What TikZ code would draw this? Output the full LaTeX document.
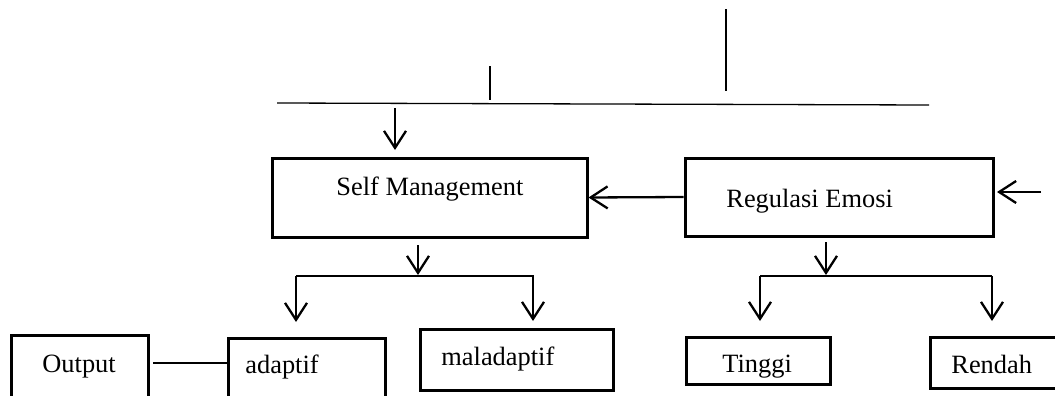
\documentclass[tikz,border=0pt]{standalone}
\usepackage{fontspec}
\setmainfont{Liberation Serif}
\usetikzlibrary{arrows.meta}
\begin{document}
\begin{tikzpicture}[x=0.5pt,y=-0.5pt,
  box/.style={draw, line width=1.5pt, rectangle, inner sep=0pt},
  lbl/.style={inner sep=0pt, anchor=base west, font=\fontsize{13.2}{15}\selectfont},
  thin/.style={line width=0.65pt},
  arr/.style={line width=1.15pt, -{Straight Barb[length=8.5pt,width=11pt,line width=1.15pt]}},
  plain/.style={line width=1.1pt}]
\useasboundingbox (0,0) rectangle (1055,396);
\clip (0,0) rectangle (1055,396);
% boxes
\node[box, minimum width=157.5pt, minimum height=39.5pt] (sm) at (429.5,197.5) {};
\node[box, minimum width=154pt, minimum height=39pt] (re) at (839,197) {};
\node[box, minimum width=68.5pt, minimum height=47.5pt] (out) at (79.5,382.5) {};
\node[box, minimum width=78.5pt, minimum height=46pt] (ad) at (306.5,384) {};
\node[box, minimum width=96.5pt, minimum height=30.5pt] (mal) at (516.5,359.5) {};
\node[box, minimum width=72pt, minimum height=23.5pt] (ti) at (758,360.5) {};
\node[box, minimum width=75pt, minimum height=25.5pt] (rd) at (1005,362.5) {};
% labels
\node[lbl] (tsm) at (336,195) {Self Management};
\node[lbl] (tre) at (726,207) {Regulasi Emosi};
\node[lbl] (tout) at (42,372) {Output};
\node[lbl] (tad) at (245,373) {adaptif};
\node[lbl] (tmal) at (441,365) {maladaptif};
\node[lbl] (tti) at (722,372) {Tinggi};
\node[lbl] (trd) at (951,373) {Rendah};
% top lines
\coordinate (v1a) at (726,9);   \coordinate (v1b) at (726,91);
\coordinate (v2a) at (490,66);  \coordinate (v2b) at (490,100);
\coordinate (hl) at (277,103);  \coordinate (hr) at (929,105);
\draw[thin] (v1a) -- (v1b);
\draw[thin] (v2a) -- (v2b);
\draw[thin] (hl) -- (hr);
% arrow into Self Management
\coordinate (a1s) at (395,108); \coordinate (a1e) at (395,150);
\draw[arr] (a1s) -- (a1e);
% Regulasi -> Self Management
\draw[arr] (re.west) -- (sm.east);
% arrow into Regulasi from right
\coordinate (rin) at (1041,192); \coordinate (rine) at (997,192);
\draw[arr] (rin) -- (rine);
% Self Management branch
\coordinate (s1) at (418,245); \coordinate (s2) at (418,275);
\draw[arr] (s1) -- (s2);
\coordinate (bl) at (296,276); \coordinate (br) at (534,276);
\draw[thin] (bl) -- (br);
\coordinate (bla) at (296,276); \coordinate (ble) at (296,322);
\coordinate (bra) at (533,276); \coordinate (bre) at (533,321);
\draw[arr] (bla) -- (ble);
\draw[arr] (bra) -- (bre);
% Regulasi branch
\coordinate (r1) at (826,242); \coordinate (r2) at (826,275);
\draw[arr] (r1) -- (r2);
\coordinate (cl) at (760,276); \coordinate (cr) at (992,276);
\draw[plain] (cl) -- (cr);
\coordinate (cle) at (760,321); \coordinate (cre) at (992,321);
\draw[arr] (cl) -- (cle);
\draw[arr] (cr) -- (cre);
% Output -- adaptif
\coordinate (oa) at (153,363);
\draw[thin] (oa) -- (oa -| ad.west);
\end{tikzpicture}
\end{document}
